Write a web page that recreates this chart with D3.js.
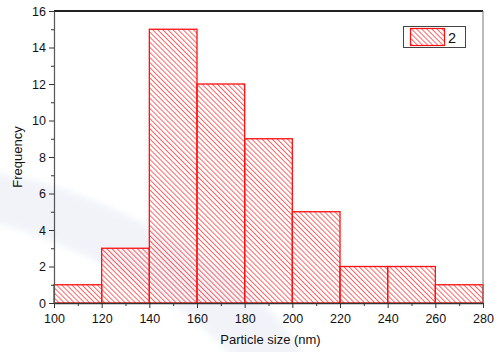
<!DOCTYPE html>
<html>
<head>
<meta charset="utf-8">
<script src="https://cdn.jsdelivr.net/npm/d3@7"></script>
<style>
  html, body { margin: 0; padding: 0; background: #fff; }
  svg { display: block; font-family: "Liberation Sans", Arial, sans-serif; }
</style>
</head>
<body>
<svg id="chart" width="504" height="352"></svg>
<script>
// Histogram bins (nm) and counts
const binStarts = [100, 120, 140, 160, 180, 200, 220, 240, 260];
const binWidth = 20;
const counts = [1, 3, 15, 12, 9, 5, 2, 2, 1];
const xTicks = [100, 120, 140, 160, 180, 200, 220, 240, 260, 280];
const yTicks = [0, 2, 4, 6, 8, 10, 12, 14, 16];
const seriesName = "2";

const svg = d3.select("#chart");
const margin = { left: 54, right: 21, top: 11, bottom: 49 };
const W = 504, H = 352;

const x = d3.scaleLinear().domain([100, 280]).range([margin.left, W - margin.right]);
const y = d3.scaleLinear().domain([0, 16]).range([H - margin.bottom, margin.top]);

// back-slash hatch pattern for the bars
const defs = svg.append("defs");
const step = 3.6;
const pat = defs.append("pattern")
  .attr("id", "hatch")
  .attr("patternUnits", "userSpaceOnUse")
  .attr("width", step).attr("height", step)
  .attr("patternTransform", "rotate(-45)");
pat.append("line")
  .attr("x1", 0.5).attr("y1", 0).attr("x2", 0.5).attr("y2", step)
  .attr("stroke", "#ff2a2a").attr("stroke-width", 0.85).attr("stroke-opacity", 0.85);

defs.append("filter").attr("id", "soft")
  .append("feGaussianBlur").attr("stdDeviation", 3);

// faint background swoosh
svg.append("path")
  .attr("d", "M-10,172 C60,180 150,220 230,275 C270,305 295,335 305,360 L235,360 C200,320 150,285 90,258 C55,242 20,228 -10,222 Z")
  .attr("fill", "#eef1f8")
  .attr("opacity", 0.8)
  .attr("filter", "url(#soft)");

// bars
svg.append("g").selectAll("rect")
  .data(binStarts.map((s, i) => ({ s, c: counts[i] })))
  .join("rect")
  .attr("x", d => x(d.s))
  .attr("y", d => y(d.c))
  .attr("width", d => x(d.s + binWidth) - x(d.s))
  .attr("height", d => y(0) - y(d.c))
  .attr("fill", "url(#hatch)")
  .attr("stroke", "#ff1010")
  .attr("stroke-width", 1.3);

// frame: top and right
svg.append("line")
  .attr("x1", x(100)).attr("x2", x(280)).attr("y1", y(16)).attr("y2", y(16))
  .attr("stroke", "#222").attr("stroke-width", 2);
svg.append("line")
  .attr("x1", x(280)).attr("x2", x(280)).attr("y1", y(16)).attr("y2", y(0))
  .attr("stroke", "#777").attr("stroke-width", 1);

// x axis
const xAxis = svg.append("g")
  .attr("transform", `translate(0,${y(0)})`)
  .call(d3.axisBottom(x).tickValues(xTicks).tickFormat(d3.format("d")).tickSize(5).tickSizeOuter(0));
xAxis.select(".domain").attr("stroke", "#333").attr("stroke-width", 1.5);
xAxis.selectAll(".tick line").attr("stroke", "#333");
xAxis.selectAll("text").attr("font-size", 12.5).attr("fill", "#111").attr("dy", "0.95em");
svg.append("g")
  .attr("transform", `translate(0,${y(0)})`)
  .call(d3.axisBottom(x).tickValues(d3.range(110, 280, 20)).tickFormat("").tickSize(3).tickSizeOuter(0))
  .call(g => g.select(".domain").remove())
  .selectAll(".tick line").attr("stroke", "#333");

// y axis
const yAxis = svg.append("g")
  .attr("transform", `translate(${x(100)},0)`)
  .call(d3.axisLeft(y).tickValues(yTicks).tickSize(5).tickSizeOuter(0));
yAxis.select(".domain").attr("stroke", "#555").attr("stroke-width", 1.2);
yAxis.selectAll(".tick line").attr("stroke", "#333");
yAxis.selectAll("text").attr("font-size", 12.5).attr("fill", "#111");
svg.append("g")
  .attr("transform", `translate(${x(100)},0)`)
  .call(d3.axisLeft(y).tickValues(d3.range(1, 16, 2)).tickFormat("").tickSize(3).tickSizeOuter(0))
  .call(g => g.select(".domain").remove())
  .selectAll(".tick line").attr("stroke", "#333");

// axis titles
svg.append("text")
  .attr("x", (x(100) + x(280)) / 2 + 2).attr("y", 344)
  .attr("text-anchor", "middle").attr("font-size", 13).attr("fill", "#111")
  .text("Particle size (nm)");
svg.append("text")
  .attr("transform", `translate(22,${(y(0) + y(16)) / 2}) rotate(-90)`)
  .attr("text-anchor", "middle").attr("font-size", 13).attr("fill", "#111")
  .text("Frequency");

// legend
const lg = svg.append("g");
lg.append("rect")
  .attr("x", 403.5).attr("y", 26.5).attr("width", 62).attr("height", 21)
  .attr("fill", "#fff").attr("stroke", "#444").attr("stroke-width", 1);
lg.append("rect")
  .attr("x", 410.5).attr("y", 28.5).attr("width", 34).attr("height", 17)
  .attr("fill", "url(#hatch)").attr("stroke", "#ff1010").attr("stroke-width", 1.2);
lg.append("text")
  .attr("x", 448).attr("y", 43).attr("font-size", 14.5).attr("fill", "#111")
  .text(seriesName);
</script>
</body>
</html>
